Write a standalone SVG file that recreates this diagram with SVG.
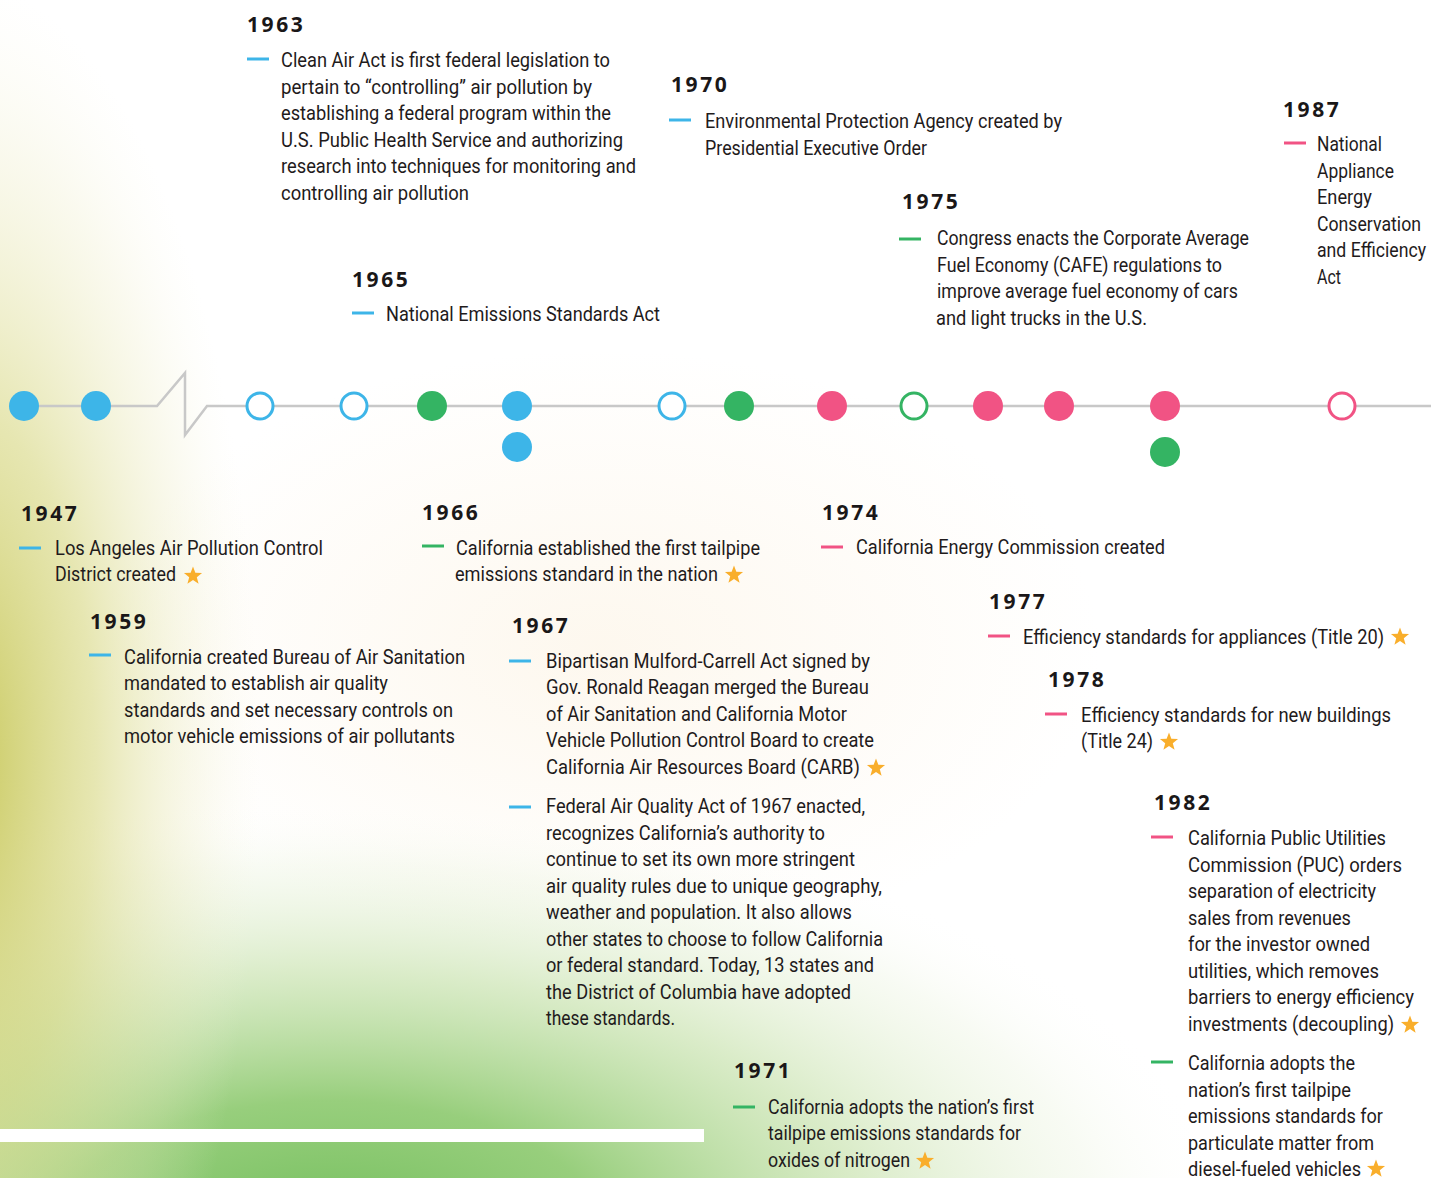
<svg xmlns="http://www.w3.org/2000/svg" xmlns:xlink="http://www.w3.org/1999/xlink" width="1431" height="1178" viewBox="0 0 1431 1178">
<defs>
<radialGradient id="gGreen" cx="0" cy="0" r="1" gradientUnits="userSpaceOnUse" gradientTransform="translate(330 1230) scale(900 430)">
<stop offset="0" stop-color="#74bf5e" stop-opacity="1"/>
<stop offset="0.3" stop-color="#8cc96e" stop-opacity="0.9"/>
<stop offset="0.6" stop-color="#bcdc9c" stop-opacity="0.55"/>
<stop offset="0.85" stop-color="#e2eed0" stop-opacity="0.25"/>
<stop offset="1" stop-color="#ffffff" stop-opacity="0"/>
</radialGradient>
<radialGradient id="gYellow" cx="0" cy="0" r="1" gradientUnits="userSpaceOnUse" gradientTransform="translate(-40 760) scale(300 780)">
<stop offset="0" stop-color="#c4c450" stop-opacity="0.95"/>
<stop offset="0.45" stop-color="#d6d67e" stop-opacity="0.6"/>
<stop offset="0.8" stop-color="#ebe9bc" stop-opacity="0.25"/>
<stop offset="1" stop-color="#f6f4dc" stop-opacity="0"/>
</radialGradient>
<radialGradient id="gWarm" cx="0" cy="0" r="1" gradientUnits="userSpaceOnUse" gradientTransform="translate(600 650) scale(500 300)">
<stop offset="0" stop-color="#fdf6ea" stop-opacity="0.8"/>
<stop offset="1" stop-color="#fdf6ea" stop-opacity="0"/>
</radialGradient>
<path id="star" d="M0,-9.5 L2.35,-3.24 L9.04,-2.94 L3.8,1.24 L5.58,7.69 L0,4 L-5.58,7.69 L-3.8,1.24 L-9.04,-2.94 L-2.35,-3.24 Z" fill="#f9ae2b"/>
<style>
.yr{font-family:"Open Sans","DejaVu Sans",sans-serif;font-weight:700;font-size:21px;letter-spacing:2.6px;fill:#1a1718}
.tx{font-family:Roboto,"Liberation Sans",sans-serif;font-size:21px;fill:#1f1b1c}
.db{stroke:#3db5e8;stroke-width:3}
.dg{stroke:#34b463;stroke-width:3}
.dp{stroke:#f15384;stroke-width:3}
.fb{fill:#3db5e8}
.fg{fill:#34b463}
.fp{fill:#f15384}
.rb{fill:#ffffff;stroke:#3db5e8;stroke-width:3}
.rg{fill:#ffffff;stroke:#34b463;stroke-width:3}
.rp{fill:#ffffff;stroke:#f15384;stroke-width:3}
.tl{fill:none;stroke:#c8c8c8;stroke-width:2.5}
</style>
</defs>

<g id="background">
<rect x="0" y="0" width="1431" height="1178" fill="#ffffff"/>
<rect x="0" y="0" width="1431" height="1178" fill="url(#gWarm)"/>
<rect x="0" y="0" width="1431" height="1178" fill="url(#gGreen)"/>
<rect x="0" y="0" width="1431" height="1178" fill="url(#gYellow)"/>
<rect x="0" y="1129" width="704" height="13" fill="#ffffff"/>
</g>

<g id="connectors">
<polyline class="tl" points="24,406 157,406 185,373 185,435 207,406 1431,406"/>
</g>

<g id="dots">
<circle id="n1947" class="fb" cx="24" cy="406" r="15"/>
<circle id="n1959" class="fb" cx="96" cy="406" r="15"/>
<circle id="n1963" class="rb" cx="260" cy="406" r="13"/>
<circle id="n1965" class="rb" cx="354" cy="406" r="13"/>
<circle id="n1966" class="fg" cx="432" cy="406" r="15"/>
<circle id="n1967a" class="fb" cx="517" cy="406" r="15"/>
<circle id="n1967b" class="fb" cx="517" cy="447" r="15"/>
<circle id="n1970" class="rb" cx="672" cy="406" r="13"/>
<circle id="n1971" class="fg" cx="739" cy="406" r="15"/>
<circle id="n1974" class="fp" cx="832" cy="406" r="15"/>
<circle id="n1975" class="rg" cx="914" cy="406" r="13"/>
<circle id="n1977" class="fp" cx="988" cy="406" r="15"/>
<circle id="n1978" class="fp" cx="1059" cy="406" r="15"/>
<circle id="n1982a" class="fp" cx="1165" cy="406" r="15"/>
<circle id="n1982b" class="fg" cx="1165" cy="452" r="15"/>
<circle id="n1987" class="rp" cx="1342" cy="406" r="13"/>
</g>

<g id="e1963">
<text class="yr" x="247" y="32">1963</text>
<line class="db" x1="247" y1="59" x2="269" y2="59"/>
<text class="tx" x="281" y="67" textLength="329" lengthAdjust="spacingAndGlyphs">Clean Air Act is first federal legislation to</text>
<text class="tx" x="281" y="93.5" textLength="311" lengthAdjust="spacingAndGlyphs">pertain to “controlling” air pollution by</text>
<text class="tx" x="281" y="120" textLength="330" lengthAdjust="spacingAndGlyphs">establishing a federal program within the</text>
<text class="tx" x="281" y="146.5" textLength="342" lengthAdjust="spacingAndGlyphs">U.S. Public Health Service and authorizing</text>
<text class="tx" x="281" y="173" textLength="355" lengthAdjust="spacingAndGlyphs">research into techniques for monitoring and</text>
<text class="tx" x="281" y="199.5" textLength="188" lengthAdjust="spacingAndGlyphs">controlling air pollution</text>
</g>

<g id="e1965">
<text class="yr" x="352" y="287">1965</text>
<line class="db" x1="352" y1="313" x2="374" y2="313"/>
<text class="tx" x="386" y="320.5" textLength="274" lengthAdjust="spacingAndGlyphs">National Emissions Standards Act</text>
</g>

<g id="e1970">
<text class="yr" x="671" y="92">1970</text>
<line class="db" x1="669" y1="120" x2="691" y2="120"/>
<text class="tx" x="705" y="128" textLength="357" lengthAdjust="spacingAndGlyphs">Environmental Protection Agency created by</text>
<text class="tx" x="705" y="154.5" textLength="222" lengthAdjust="spacingAndGlyphs">Presidential Executive Order</text>
</g>

<g id="e1975">
<text class="yr" x="902" y="208.5">1975</text>
<line class="dg" x1="899" y1="239" x2="921" y2="239"/>
<text class="tx" x="937" y="245" textLength="312" lengthAdjust="spacingAndGlyphs">Congress enacts the Corporate Average</text>
<text class="tx" x="937" y="271.5" textLength="285" lengthAdjust="spacingAndGlyphs">Fuel Economy (CAFE) regulations to</text>
<text class="tx" x="937" y="298" textLength="301" lengthAdjust="spacingAndGlyphs">improve average fuel economy of cars</text>
<text class="tx" x="936" y="324.5" textLength="211" lengthAdjust="spacingAndGlyphs">and light trucks in the U.S.</text>
</g>

<g id="e1987">
<text class="yr" x="1283" y="117">1987</text>
<line class="dp" x1="1284" y1="143" x2="1306" y2="143"/>
<text class="tx" x="1317" y="151" textLength="65" lengthAdjust="spacingAndGlyphs">National</text>
<text class="tx" x="1317" y="177.5" textLength="77" lengthAdjust="spacingAndGlyphs">Appliance</text>
<text class="tx" x="1317" y="204" textLength="55" lengthAdjust="spacingAndGlyphs">Energy</text>
<text class="tx" x="1317" y="230.5" textLength="104" lengthAdjust="spacingAndGlyphs">Conservation</text>
<text class="tx" x="1317" y="257" textLength="109" lengthAdjust="spacingAndGlyphs">and Efficiency</text>
<text class="tx" x="1317" y="283.5" textLength="24" lengthAdjust="spacingAndGlyphs">Act</text>
</g>

<g id="e1947">
<text class="yr" x="21" y="521">1947</text>
<line class="db" x1="19" y1="548" x2="41" y2="548"/>
<text class="tx" x="55" y="554.5" textLength="268" lengthAdjust="spacingAndGlyphs">Los Angeles Air Pollution Control</text>
<text class="tx" x="55" y="581" textLength="121" lengthAdjust="spacingAndGlyphs">District created</text>
<use xlink:href="#star" x="193" y="576"/>
</g>

<g id="e1966">
<text class="yr" x="422" y="520">1966</text>
<line class="dg" x1="422" y1="546" x2="444" y2="546"/>
<text class="tx" x="456" y="554.5" textLength="304" lengthAdjust="spacingAndGlyphs">California established the first tailpipe</text>
<text class="tx" x="455" y="581" textLength="263" lengthAdjust="spacingAndGlyphs">emissions standard in the nation</text>
<use xlink:href="#star" x="734" y="575"/>
</g>

<g id="e1974">
<text class="yr" x="822" y="519.5">1974</text>
<line class="dp" x1="821" y1="547" x2="843" y2="547"/>
<text class="tx" x="856" y="554" textLength="309" lengthAdjust="spacingAndGlyphs">California Energy Commission created</text>
</g>

<g id="e1959">
<text class="yr" x="90" y="628.5">1959</text>
<line class="db" x1="89" y1="655" x2="111" y2="655"/>
<text class="tx" x="124" y="663.5" textLength="341" lengthAdjust="spacingAndGlyphs">California created Bureau of Air Sanitation</text>
<text class="tx" x="124" y="690" textLength="264" lengthAdjust="spacingAndGlyphs">mandated to establish air quality</text>
<text class="tx" x="124" y="716.5" textLength="329" lengthAdjust="spacingAndGlyphs">standards and set necessary controls on</text>
<text class="tx" x="124" y="743" textLength="331" lengthAdjust="spacingAndGlyphs">motor vehicle emissions of air pollutants</text>
</g>

<g id="e1967">
<text class="yr" x="512" y="632.5">1967</text>
<line class="db" x1="509" y1="661" x2="531" y2="661"/>
<text class="tx" x="546" y="667.5" textLength="324" lengthAdjust="spacingAndGlyphs">Bipartisan Mulford-Carrell Act signed by</text>
<text class="tx" x="546" y="694" textLength="323" lengthAdjust="spacingAndGlyphs">Gov. Ronald Reagan merged the Bureau</text>
<text class="tx" x="546" y="720.5" textLength="301" lengthAdjust="spacingAndGlyphs">of Air Sanitation and California Motor</text>
<text class="tx" x="546" y="747" textLength="328" lengthAdjust="spacingAndGlyphs">Vehicle Pollution Control Board to create</text>
<text class="tx" x="546" y="773.5" textLength="314" lengthAdjust="spacingAndGlyphs">California Air Resources Board (CARB)</text>
<use xlink:href="#star" x="876" y="768"/>
<line class="db" x1="509" y1="807" x2="531" y2="807"/>
<text class="tx" x="546" y="813" textLength="319" lengthAdjust="spacingAndGlyphs">Federal Air Quality Act of 1967 enacted,</text>
<text class="tx" x="546" y="839.5" textLength="279" lengthAdjust="spacingAndGlyphs">recognizes California’s authority to</text>
<text class="tx" x="546" y="866" textLength="309" lengthAdjust="spacingAndGlyphs">continue to set its own more stringent</text>
<text class="tx" x="546" y="892.5" textLength="336" lengthAdjust="spacingAndGlyphs">air quality rules due to unique geography,</text>
<text class="tx" x="546" y="919" textLength="306" lengthAdjust="spacingAndGlyphs">weather and population. It also allows</text>
<text class="tx" x="546" y="945.5" textLength="337" lengthAdjust="spacingAndGlyphs">other states to choose to follow California</text>
<text class="tx" x="546" y="972" textLength="328" lengthAdjust="spacingAndGlyphs">or federal standard. Today, 13 states and</text>
<text class="tx" x="546" y="998.5" textLength="305" lengthAdjust="spacingAndGlyphs">the District of Columbia have adopted</text>
<text class="tx" x="546" y="1025" textLength="129" lengthAdjust="spacingAndGlyphs">these standards.</text>
</g>

<g id="e1971">
<text class="yr" x="734" y="1078">1971</text>
<line class="dg" x1="733" y1="1107" x2="755" y2="1107"/>
<text class="tx" x="768" y="1113.5" textLength="266" lengthAdjust="spacingAndGlyphs">California adopts the nation’s first</text>
<text class="tx" x="768" y="1140" textLength="253" lengthAdjust="spacingAndGlyphs">tailpipe emissions standards for</text>
<text class="tx" x="768" y="1166.5" textLength="142" lengthAdjust="spacingAndGlyphs">oxides of nitrogen</text>
<use xlink:href="#star" x="925" y="1161"/>
</g>

<g id="e1977">
<text class="yr" x="989" y="608.5">1977</text>
<line class="dp" x1="988" y1="636" x2="1010" y2="636"/>
<text class="tx" x="1023" y="643.5" textLength="361" lengthAdjust="spacingAndGlyphs">Efficiency standards for appliances (Title 20)</text>
<use xlink:href="#star" x="1400" y="637"/>
</g>

<g id="e1978">
<text class="yr" x="1048" y="687">1978</text>
<line class="dp" x1="1045" y1="714" x2="1067" y2="714"/>
<text class="tx" x="1081" y="721.5" textLength="310" lengthAdjust="spacingAndGlyphs">Efficiency standards for new buildings</text>
<text class="tx" x="1081" y="748" textLength="72" lengthAdjust="spacingAndGlyphs">(Title 24)</text>
<use xlink:href="#star" x="1169" y="742"/>
</g>

<g id="e1982">
<text class="yr" x="1154" y="810">1982</text>
<line class="dp" x1="1151" y1="837" x2="1173" y2="837"/>
<text class="tx" x="1188" y="845" textLength="198" lengthAdjust="spacingAndGlyphs">California Public Utilities</text>
<text class="tx" x="1188" y="871.5" textLength="214" lengthAdjust="spacingAndGlyphs">Commission (PUC) orders</text>
<text class="tx" x="1188" y="898" textLength="188" lengthAdjust="spacingAndGlyphs">separation of electricity</text>
<text class="tx" x="1188" y="924.5" textLength="163" lengthAdjust="spacingAndGlyphs">sales from revenues</text>
<text class="tx" x="1188" y="951" textLength="182" lengthAdjust="spacingAndGlyphs">for the investor owned</text>
<text class="tx" x="1188" y="977.5" textLength="191" lengthAdjust="spacingAndGlyphs">utilities, which removes</text>
<text class="tx" x="1188" y="1004" textLength="226" lengthAdjust="spacingAndGlyphs">barriers to energy efficiency</text>
<text class="tx" x="1188" y="1030.5" textLength="206" lengthAdjust="spacingAndGlyphs">investments (decoupling)</text>
<use xlink:href="#star" x="1410" y="1025"/>
<line class="dg" x1="1151" y1="1062" x2="1173" y2="1062"/>
<text class="tx" x="1188" y="1070" textLength="167" lengthAdjust="spacingAndGlyphs">California adopts the</text>
<text class="tx" x="1188" y="1096.5" textLength="163" lengthAdjust="spacingAndGlyphs">nation’s first tailpipe</text>
<text class="tx" x="1188" y="1123" textLength="195" lengthAdjust="spacingAndGlyphs">emissions standards for</text>
<text class="tx" x="1188" y="1149.5" textLength="186" lengthAdjust="spacingAndGlyphs">particulate matter from</text>
<text class="tx" x="1188" y="1176" textLength="173" lengthAdjust="spacingAndGlyphs">diesel-fueled vehicles</text>
<use xlink:href="#star" x="1376" y="1169"/>
</g>
</svg>
